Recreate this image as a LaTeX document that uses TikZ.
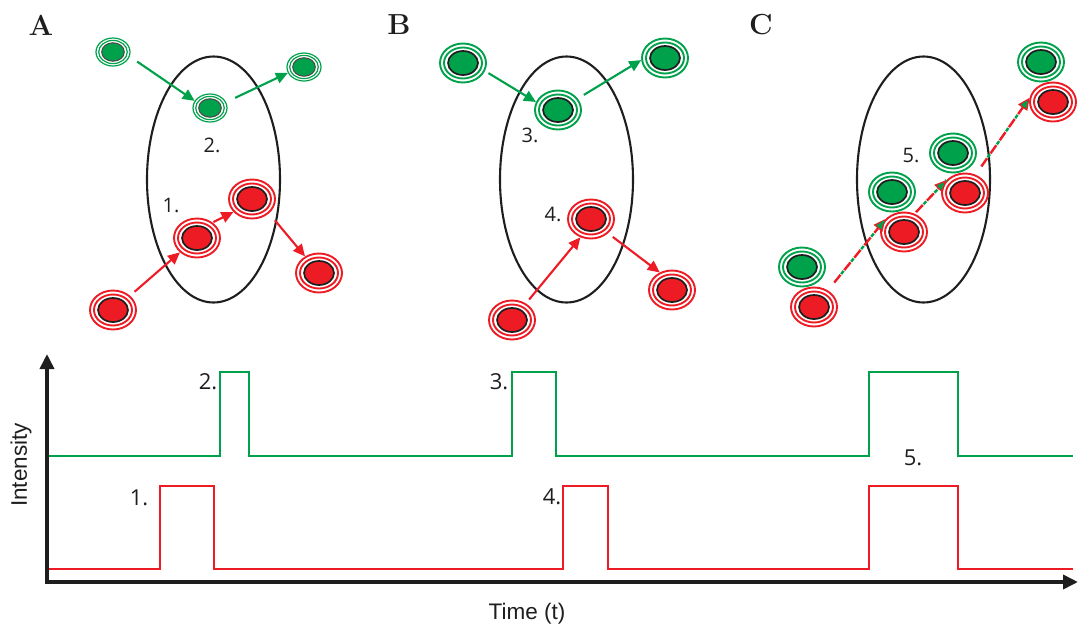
\documentclass[tikz,border=0pt]{standalone}
\usepackage{fontspec}
\newfontfamily\numfont{Open Sans}
\newfontfamily\axfont{Liberation Sans}
\usetikzlibrary{arrows.meta,shapes.geometric}
\definecolor{ink}{RGB}{30,30,30}
\definecolor{fluG}{RGB}{0,161,75}
\definecolor{fluR}{RGB}{237,28,36}

\begin{document}
\begin{tikzpicture}[x=1pt, y=-1pt,
    tag/.style={font=\fontsize{29}{32}\selectfont\bfseries, color=ink},
    num/.style={font=\numfont\fontsize{20}{23}\selectfont, color=ink},
    pnum/.style={font=\numfont\fontsize{22}{25}\selectfont, color=ink},
    axlab/.style={font=\axfont\fontsize{22.5}{26}\selectfont, color=ink},
    cell/.style={draw=ink, line width=2.1pt},
    big/.style={ellipse, inner sep=0pt, minimum width=46pt, minimum height=39pt,
      fill=white, draw=#1, line width=1.9pt,
      path picture={
        \draw[#1, line width=1.9pt] (path picture bounding box.center)
          ellipse [x radius=19pt, y radius=15.5pt];
        \draw[ink, fill=#1, line width=1.7pt] (path picture bounding box.center)
          ellipse [x radius=15pt, y radius=12pt];}},
    small/.style={ellipse, inner sep=0pt, minimum width=34pt, minimum height=28pt,
      fill=white, draw=#1, line width=1.2pt,
      path picture={
        \draw[#1, line width=1.2pt] (path picture bounding box.center)
          ellipse [x radius=14.3pt, y radius=11.6pt];
        \draw[ink!80, fill=#1, line width=1.1pt] (path picture bounding box.center)
          ellipse [x radius=11.3pt, y radius=9.2pt];}},
    hop/.style={-{Triangle[length=12pt, width=11pt]}, line width=2.1pt, color=#1,
      shorten <=6pt},
    pair/.style={-{Triangle[length=12pt, width=11pt, fill=fluG, line width=1.2pt]},
      draw=fluR, line width=2.4pt, dash pattern=on 10pt off 6pt, shorten <=10pt,
      postaction={draw=fluG, -, dash pattern=on 4pt off 12pt, dash phase=5pt}},
    axis/.style={{Triangle[length=15pt, width=14pt]}-{Triangle[length=15pt, width=14pt]},
      line width=3.6pt, color=ink},
    trace/.style={line width=2.9pt, color=#1}]

  \useasboundingbox (0,0) rectangle (1080,630);

  % ---- panel tags ------------------------------------------------------------
  \node[tag] (tagA) at (41,25) {A};
  \node[tag] (tagB) at (399,25) {B};
  \node[tag] (tagC) at (761,25) {C};

  % ---- observation volumes -----------------------------------------------------
  \foreach \cx in {213.5,566.5,923.5} { \draw[cell] (\cx,179.5) ellipse (66.5 and 123); }

  % ---- A: separate passes ----------------------------------------------------
  \foreach \n/\p in {gA1/{113,52}, gA2/{210,108}, gA3/{304,67}} { \node[small=fluG] (\n) at (\p) {}; }
  \foreach \n/\p in {rA1/{113,310}, rA2/{197,238}, rA3/{252,199}, rA4/{319,273}} { \node[big=fluR] (\n) at (\p) {}; }
  \draw[hop=fluG, shorten <=9pt] (gA1.-15) -- (gA2.155);
  \draw[hop=fluG, shorten <=10pt] (gA2.20) -- (gA3.200);
  \draw[hop=fluR] (rA1.40) -- (rA2.220);
  \draw[hop=fluR, shorten <=1pt] (rA2.45) -- (rA3.215);
  \draw[hop=fluR, shorten <=9pt] (rA3.-40) -- (rA4.130);
  \node[num] (nA2) at (212,145) {2.};
  \node[num] (nA1) at (171,205) {1.};

  % ---- B: separate passes, one more each --------------------------------------
  \foreach \n/\p in {gB1/{463,63}, gB2/{558,110}, gB3/{665,58}} { \node[big=fluG] (\n) at (\p) {}; }
  \foreach \n/\p in {rB1/{512,320}, rB2/{591,219}, rB3/{672,290}} { \node[big=fluR] (\n) at (\p) {}; }
  \draw[hop=fluG, shorten <=4pt] (gB1.-20) -- (gB2.160);
  \draw[hop=fluG, shorten <=7pt] (gB2.30) -- (gB3.185);
  \draw[hop=fluR, shorten <=5pt] (rB1.50) -- (rB2.240);
  \draw[hop=fluR] (rB2.-40) -- (rB3.125);
  \node[num] (nB3) at (530,135) {3.};
  \node[num] (nB4) at (553,214) {4.};

  % ---- C: bound pair moving together -------------------------------------------
  \foreach \k/\gx/\gy in {1/802/267, 2/892/192, 3/953/153, 4/1041/62} {
    \node[big=fluG] (gC\k) at (\gx,\gy) {};
    \node[big=fluR] (rC\k) at (\gx+12,\gy+40) {};
  }
  \draw[pair] (rC1.50) -- (rC2.145);
  \draw[pair, shorten <=2pt] (rC2.60) -- (rC3.145);
  \draw[pair] (rC3.60) -- (rC4.170);
  \node[num] (nC5) at (911,155) {5.};

  % ---- intensity traces --------------------------------------------------------
  \coordinate (ytip) at (47,354);
  \coordinate (orig) at (47,582);
  \coordinate (xtip) at (1078,582);
  \draw[trace=fluG] (47,456)
    \foreach \a/\b in {220/249, 512/556, 869/958} { -- (\a,456) -- (\a,372) -- (\b,372) -- (\b,456) }
    -- (1073,456);
  \draw[trace=fluR] (47,569)
    \foreach \a/\b in {160/214, 563/608, 869/958} { -- (\a,569) -- (\a,486) -- (\b,486) -- (\b,569) }
    -- (1073,569);
  \draw[axis] (ytip) -- (orig) -- (xtip);

  \node[pnum] (p2) at (208,382) {2.};
  \node[pnum] (p1) at (139,498) {1.};
  \node[pnum] (p3) at (499,382) {3.};
  \node[pnum] (p4) at (552,497) {4.};
  \node[pnum] (p5) at (913,458) {5.};

  \node[axlab, rotate=90] (ylab) at (21,465) {Intensity};
  \node[axlab] (xlab) at (527,614) {Time (t)};
\end{tikzpicture}
\end{document}
